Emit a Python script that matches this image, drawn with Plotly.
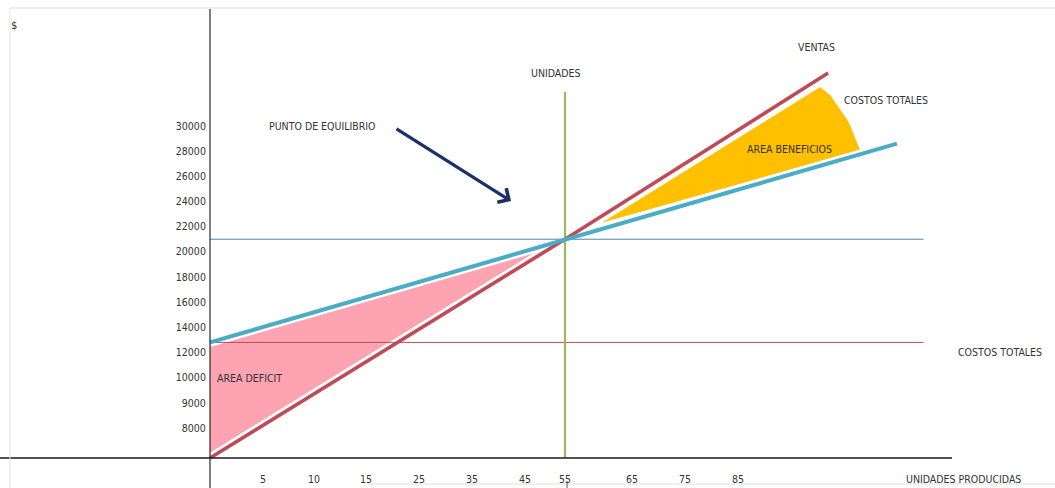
import numpy as np
import plotly.graph_objects as go

# ---------------------------------------------------------------------------
# Break-even chart (punto de equilibrio): ventas vs costos totales
# ---------------------------------------------------------------------------
x_labels = ["5", "10", "15", "25", "35", "45", "55", "65", "75", "85"]
y_labels = ["30000", "28000", "26000", "24000", "22000", "20000", "18000",
            "16000", "14000", "12000", "10000", "9000", "8000"]

fixed_costs = 12800
breakeven_units = 55
breakeven_amount = 21000

ventas_units = [0, 55, 102]
ventas_amount = [0, 21000, 34200]

costos_units = [0, 55, 115]
costos_amount = [12800, 21000, 28600]

deficit_units = [0, 55, 0]
deficit_amount = [0, 21000, 12800]

beneficio_units = [60.5, 100.5, 102.5, 105.2, 105.6, 106.2, 108.0]
beneficio_amount = [22300, 33100, 32400, 30700, 30500, 30000, 28100]

guide_end_units = 120
unidades_top_amount = 32700

# ---------------------------------------------------------------------------
# Sketch-style scales: tick labels sit at evenly spaced slots, so values are
# mapped piecewise onto the drawing coordinates (pixels from the origin).
# ---------------------------------------------------------------------------
W, H = 1055, 488
ORIGIN_X, ORIGIN_Y = 210, 458

X_KNOTS_U = [0, 5, 10, 15, 25, 35, 45, 55, 65, 75, 85]
X_KNOTS_P = [0, 53, 104, 156, 209, 262, 315, 355, 422, 475, 528]
X_TAIL = 5.3  # per unit beyond the last knot

y_values = [float(v) for v in reversed(y_labels)]
Y_STEP = 25.17
Y_KNOTS_V = [0.0] + y_values
Y_KNOTS_P = [0.0] + [30 + Y_STEP * i for i in range(len(y_values))]


def sx(u):
    u = np.asarray(u, dtype=float)
    p = np.interp(u, X_KNOTS_U, X_KNOTS_P)
    return np.where(u > X_KNOTS_U[-1], X_KNOTS_P[-1] + (u - X_KNOTS_U[-1]) * X_TAIL, p)


def sy(v):
    v = np.asarray(v, dtype=float)
    p = np.interp(v, Y_KNOTS_V, Y_KNOTS_P)
    return np.where(v > Y_KNOTS_V[-1],
                    Y_KNOTS_P[-1] + (v - Y_KNOTS_V[-1]) / 2000 * Y_STEP, p)


def paper(xpx, ypx):
    return xpx / W, 1 - ypx / H


FONT = "DejaVu Sans Condensed, DejaVu Sans, sans-serif"
FS = 10.5
TEXT = "#333333"
RED = "#BE4B55"
TEAL = "#4BACC6"
GREEN = "#9BBB59"
PINK = "#FDA3B1"
GOLD = "#FFC000"
NAVY = "#1B2F6B"

fig = go.Figure()

# areas
fig.add_trace(go.Scatter(x=sx(deficit_units), y=sy(deficit_amount), mode="lines",
                         fill="toself", fillcolor=PINK, line=dict(width=0),
                         hoverinfo="skip"))
fig.add_trace(go.Scatter(x=sx(beneficio_units), y=sy(beneficio_amount), mode="lines",
                         fill="toself", fillcolor=GOLD, line=dict(width=0),
                         hoverinfo="skip"))

# white halo under the thick lines
for u, a in ((ventas_units, ventas_amount), (costos_units, costos_amount)):
    fig.add_trace(go.Scatter(x=sx(u), y=sy(a), mode="lines",
                             line=dict(color="white", width=9), hoverinfo="skip"))

# thin guides: break-even level, fixed costs and break-even units
fig.add_trace(go.Scatter(x=sx([0, guide_end_units]),
                         y=sy([breakeven_amount, breakeven_amount]), mode="lines",
                         line=dict(color="#4F86B0", width=1), hoverinfo="skip"))
fig.add_trace(go.Scatter(x=sx([0, guide_end_units]),
                         y=sy([fixed_costs, fixed_costs]), mode="lines",
                         line=dict(color="#B8505A", width=1), hoverinfo="skip"))
fig.add_trace(go.Scatter(x=sx([breakeven_units, breakeven_units]),
                         y=sy([0, unidades_top_amount]), mode="lines",
                         line=dict(color=GREEN, width=2.2), hoverinfo="skip"))

# ventas and costos totales
fig.add_trace(go.Scatter(x=sx(ventas_units), y=sy(ventas_amount), mode="lines",
                         line=dict(color=RED, width=3.6), hoverinfo="skip"))
fig.add_trace(go.Scatter(x=sx(costos_units), y=sy(costos_amount), mode="lines",
                         line=dict(color=TEAL, width=4), hoverinfo="skip"))

# axis lines and sheet borders
fig.add_shape(type="line", xref="paper", yref="paper",
              x0=0, y0=1 - ORIGIN_Y / H, x1=952 / W, y1=1 - ORIGIN_Y / H,
              line=dict(color="#1a1a1a", width=1.4))
fig.add_shape(type="line", xref="paper", yref="paper",
              x0=ORIGIN_X / W, y0=1 - 9 / H, x1=ORIGIN_X / W, y1=0,
              line=dict(color="#2a2a2a", width=1.2))
fig.add_shape(type="line", xref="paper", yref="paper",
              x0=10 / W, y0=1 - 8 / H, x1=1, y1=1 - 8 / H,
              line=dict(color="#dcdcdc", width=1))
fig.add_shape(type="line", xref="paper", yref="paper",
              x0=10 / W, y0=1 - 8 / H, x1=10 / W, y1=0,
              line=dict(color="#e6e6e6", width=1))
fig.add_shape(type="line", xref="paper", yref="paper",
              x0=367 / W, y0=1 - 484 / H, x1=1, y1=1 - 484 / H,
              line=dict(color="#dedede", width=1))
fig.add_shape(type="line", xref="paper", yref="paper",
              x0=567 / W, y0=1 - 481 / H, x1=567 / W, y1=0,
              line=dict(color="#555555", width=1))

# labels
labels = [
    ("$", 9, 25, "left", 11),
    ("UNIDADES", 556, 73, "center", FS),
    ("VENTAS", 816, 47, "center", FS),
    ("COSTOS TOTALES", 886, 100, "center", FS),
    ("PUNTO DE EQUILIBRIO", 267, 126, "left", FS),
    ("AREA BENEFICIOS", 745, 149, "left", FS),
    ("AREA DEFICIT", 215, 378, "left", FS),
    ("COSTOS TOTALES", 956, 352, "left", FS),
    ("UNIDADES PRODUCIDAS", 904, 479, "left", FS),
]
for text, xpx, ypx, anchor, size in labels:
    px, py = paper(xpx, ypx)
    fig.add_annotation(x=px, y=py, xref="paper", yref="paper", text=text,
                       showarrow=False, xanchor=anchor, yanchor="middle",
                       font=dict(family=FONT, size=size, color=TEXT))

# arrow pointing at the break-even point
hx, hy = paper(511, 201)
fig.add_annotation(x=hx, y=hy, xref="paper", yref="paper", text="",
                   showarrow=True, ax=395 - 511, ay=128 - 201,
                   arrowcolor=NAVY, arrowwidth=3.2, arrowhead=4, arrowsize=1.0)

fig.update_layout(
    width=W, height=H,
    margin=dict(l=0, r=0, t=0, b=0),
    paper_bgcolor="white", plot_bgcolor="white",
    showlegend=False,
    xaxis=dict(range=[-ORIGIN_X, W - ORIGIN_X], showgrid=False, zeroline=False,
               showline=False, anchor="free", position=1 - ORIGIN_Y / H,
               tickvals=sx([float(v) for v in x_labels]).tolist(), ticktext=x_labels,
               ticks="outside", ticklen=11, tickcolor="rgba(0,0,0,0)",
               tickfont=dict(family=FONT, size=FS, color=TEXT), fixedrange=True),
    yaxis=dict(range=[ORIGIN_Y - H, ORIGIN_Y], showgrid=False, zeroline=False,
               showline=False, anchor="free", position=ORIGIN_X / W,
               tickvals=sy(y_values).tolist(), ticktext=[str(int(v)) for v in y_values],
               ticks="outside", ticklen=2, tickcolor="rgba(0,0,0,0)",
               tickfont=dict(family=FONT, size=FS, color=TEXT), fixedrange=True),
)

fig.write_html("out.html")
